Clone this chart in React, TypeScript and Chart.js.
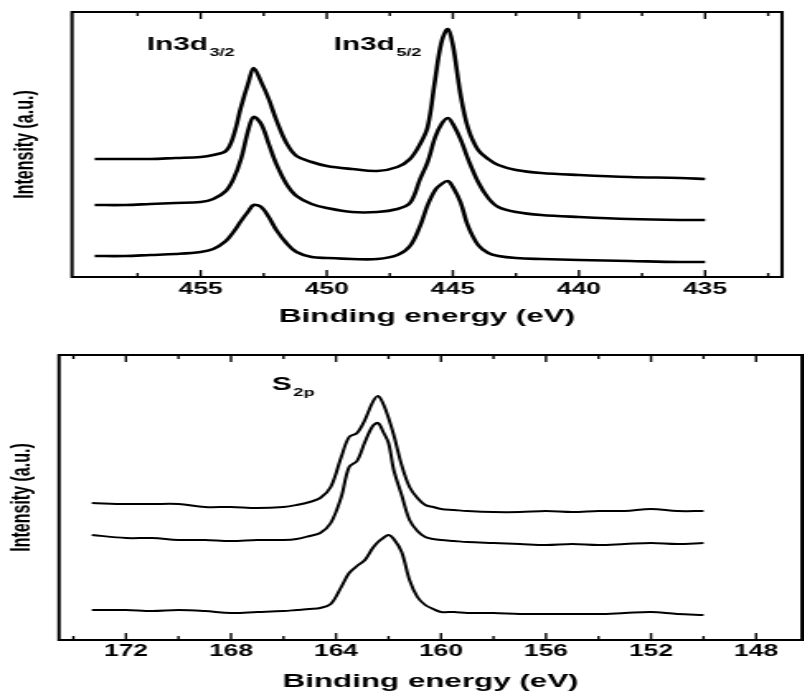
import React, { useEffect, useRef } from "react";
import { Chart, registerables } from "chart.js";

Chart.register(...registerables);

// ---------------- In 3d panel (top) ----------------
const topEnergy = [459.2, 458, 457, 456, 455, 454.5, 454, 453.7, 453.4, 453.1, 452.9, 452.6, 452.3, 452.0, 451.6, 451.2, 450.6, 450, 449, 448, 447.2, 446.7, 446.3, 446.0, 445.7, 445.45, 445.2, 445.0, 444.7, 444.4, 444.0, 443.6, 443.2, 442.5, 441.5, 440, 438, 436, 435];
const topCurve1 = [118, 118, 118, 119, 120, 122, 126, 141, 170, 195, 209, 195, 178, 157, 134, 121, 115, 111, 108, 106, 110, 118, 133, 150, 198, 235, 248, 232, 183, 149, 127, 118, 112, 107, 104, 102, 100, 99, 98];
const topCurve2 = [72, 72, 73, 74, 75, 78, 86, 98, 118, 148, 160, 153, 133, 113, 93, 81, 73, 69, 65, 65, 68, 74, 98, 115, 140, 153, 159, 153, 138, 118, 95, 79, 70, 65, 62, 60, 58, 57, 57];
const topCurve3 = [21, 21, 22, 23, 25, 28, 36, 45, 56, 66, 72, 70, 60, 47, 34, 25, 20, 19, 18, 18, 22, 31, 51, 72, 87, 93, 96, 90, 75, 51, 32, 24, 21, 19, 18, 17, 16, 15, 15];
const topMajorTicks = [455, 450, 445, 440, 435];
const topMinorTicks = [457.5, 452.5, 447.5, 442.5, 437.5, 432.5];
const topNotes = [
  { text: "In3d", sub: "3/2", x: 457.14, y: 232 },
  { text: "In3d", sub: "5/2", x: 449.73, y: 232 },
];

// ---------------- S 2p panel (bottom) ----------------
const bottomEnergy = [173.3, 172, 171, 170, 169, 168, 167, 166, 165.5, 165, 164.6, 164.2, 163.8, 163.5, 163.2, 162.9, 162.6, 162.4, 162.2, 162.0, 161.8, 161.5, 161.2, 160.9, 160.6, 160.3, 160.0, 159.5, 159, 158, 157, 156, 155, 154, 153, 152, 151, 150];
const bottomCurve1 = [137, 136, 136, 136, 133, 133, 132, 133, 135, 138, 142, 153, 183, 203, 207, 220, 238, 244, 236, 222, 205, 175, 153, 142, 135, 133, 131, 130, 129, 128, 128, 129, 128, 129, 129, 131, 129, 129];
const bottomCurve2 = [105, 102, 102, 100, 100, 99, 100, 100, 101, 104, 107, 117, 143, 173, 179, 198, 214, 217, 208, 197, 170, 145, 120, 109, 103, 101, 100, 99, 98, 97, 96, 95, 96, 95, 96, 97, 96, 97];
const bottomCurve3 = [30, 30, 29, 30, 29, 27, 28, 29, 30, 31, 32, 36, 53, 67, 74, 80, 92, 98, 102, 105, 101, 88, 60, 43, 35, 31, 28, 28, 27, 27, 26, 26, 26, 26, 27, 28, 26, 25];
const bottomMajorTicks = [172, 168, 164, 160, 156, 152, 148];
const bottomMinorTicks = [174, 170, 166, 162, 158, 154, 150];
const bottomNotes = [{ text: "S", sub: "2p", x: 166.44, y: 255 }];

const X_TITLE = "Binding energy (eV)";
const Y_TITLE = "Intensity (a.u.)";

// ---------------- layout / style ----------------
const SX = 1.65; // the scanned figure is stretched horizontally
const CANVAS_W = Math.round(804 / SX);
const FONT = "'Liberation Sans', Arial, sans-serif";

type Note = { text: string; sub: string; x: number; y: number };
type Panel = {
  canvasTop: number;
  canvasHeight: number;
  area: { left: number; right: number; top: number; bottom: number };
  xMin: number;
  xMax: number;
  yMax: number;
  energy: number[];
  curves: number[][];
  lineWidth: number;
  majors: number[];
  minors: number[];
  notes: Note[];
  tickPad: number;
  titlePadBottom: number;
  yTitlePad: number;
};

const panels: Panel[] = [
  {
    canvasTop: 0,
    canvasHeight: 335,
    area: { left: 72, right: 782, top: 12, bottom: 277 },
    xMin: 431.95,
    xMax: 460.1,
    yMax: 265,
    energy: topEnergy,
    curves: [topCurve1, topCurve2, topCurve3],
    lineWidth: 2.6,
    majors: topMajorTicks,
    minors: topMinorTicks,
    notes: topNotes,
    tickPad: 3.4,
    titlePadBottom: 6.6,
    yTitlePad: 5.6,
  },
  {
    canvasTop: 335,
    canvasHeight: 359,
    area: { left: 59, right: 802, top: 20, bottom: 305 },
    xMin: 146.25,
    xMax: 174.55,
    yMax: 285,
    energy: bottomEnergy,
    curves: [bottomCurve1, bottomCurve2, bottomCurve3],
    lineWidth: 2,
    majors: bottomMajorTicks,
    minors: bottomMinorTicks,
    notes: bottomNotes,
    tickPad: 2,
    titlePadBottom: 0.6,
    yTitlePad: 4.3,
  },
];

function buildConfig(p: Panel): any {
  const leftC = p.area.left / SX;
  const rightPad = CANVAS_W - p.area.right / SX;
  const xAxisH = p.canvasHeight - p.area.bottom;

  const framePlugin = {
    id: "frameAndNotes",
    afterDatasetsDraw(chart: any) {
      const { ctx, chartArea: a, scales } = chart;
      const xs = scales.x;
      const ys = scales.y;
      ctx.save();
      ctx.strokeStyle = "#000";
      ctx.lineWidth = 2;
      ctx.strokeRect(a.left, a.top, a.right - a.left, a.bottom - a.top);
      ctx.lineWidth = 1.4;
      const tick = (v: number, len: number) => {
        if (v < xs.min || v > xs.max) return;
        const px = xs.getPixelForValue(v);
        ctx.beginPath();
        ctx.moveTo(px, a.bottom);
        ctx.lineTo(px, a.bottom - len);
        ctx.moveTo(px, a.top);
        ctx.lineTo(px, a.top + len);
        ctx.stroke();
      };
      p.majors.forEach((v) => tick(v, 7));
      p.minors.forEach((v) => tick(v, 4));

      ctx.fillStyle = "#000";
      ctx.textAlign = "left";
      ctx.textBaseline = "middle";
      p.notes.forEach((n) => {
        const px = xs.getPixelForValue(n.x);
        const py = ys.getPixelForValue(n.y);
        ctx.font = `bold 18px ${FONT}`;
        ctx.fillText(n.text, px, py);
        const w = ctx.measureText(n.text).width;
        ctx.font = `bold 11px ${FONT}`;
        ctx.fillText(n.sub, px + w + 1, py + 8);
      });
      ctx.restore();
    },
  };

  return {
    type: "line",
    data: {
      datasets: p.curves.map((c) => ({
        data: p.energy.map((e, i) => ({ x: e, y: c[i] })),
        borderColor: "#000",
        borderWidth: p.lineWidth,
        pointRadius: 0,
        fill: false,
        tension: 0.35,
        borderJoinStyle: "round",
      })),
    },
    options: {
      responsive: false,
      animation: false,
      devicePixelRatio: 1,
      layout: {
        autoPadding: false,
        padding: { left: 0, right: rightPad, top: p.area.top, bottom: 0 },
      },
      plugins: { legend: { display: false }, tooltip: { enabled: false } },
      scales: {
        x: {
          type: "linear",
          reverse: true,
          min: p.xMin,
          max: p.xMax,
          grid: { display: false, drawTicks: false },
          border: { display: false },
          afterBuildTicks: (s: any) => {
            s.ticks = p.majors.map((v) => ({ value: v }));
          },
          ticks: {
            autoSkip: false,
            maxRotation: 0,
            padding: p.tickPad,
            color: "#000",
            font: { family: FONT, size: 16, weight: "bold" },
            callback: (v: any) => String(v),
          },
          title: {
            display: true,
            text: X_TITLE,
            color: "#000",
            font: { family: FONT, size: 19, weight: "bold" },
            padding: { top: 0, bottom: p.titlePadBottom },
          },
          afterFit: (s: any) => {
            s.height = xAxisH;
          },
        },
        y: {
          type: "linear",
          min: 0,
          max: p.yMax,
          ticks: { display: false },
          grid: { display: false, drawTicks: false },
          border: { display: false },
          title: {
            display: true,
            text: Y_TITLE,
            color: "#000",
            font: { family: FONT, size: 16, weight: "bold" },
            padding: { top: p.yTitlePad, bottom: 0 },
          },
          afterFit: (s: any) => {
            s.width = leftC;
          },
        },
      },
    },
    plugins: [framePlugin],
  };
}

function PanelChart({ panel }: { panel: Panel }) {
  const ref = useRef<HTMLCanvasElement | null>(null);
  useEffect(() => {
    if (!ref.current) return;
    const chart = new Chart(ref.current, buildConfig(panel));
    return () => chart.destroy();
  }, [panel]);
  return (
    <canvas
      ref={ref}
      width={CANVAS_W}
      height={panel.canvasHeight}
      style={{
        position: "absolute",
        left: 0,
        top: panel.canvasTop,
        transform: `scaleX(${SX})`,
        transformOrigin: "0 0",
      }}
    />
  );
}

export default function App() {
  return (
    <div
      style={{
        position: "fixed",
        left: 0,
        top: 0,
        width: 804,
        height: 694,
        background: "#fff",
        overflow: "hidden",
      }}
    >
      {panels.map((p, i) => (
        <PanelChart key={i} panel={p} />
      ))}
    </div>
  );
}
